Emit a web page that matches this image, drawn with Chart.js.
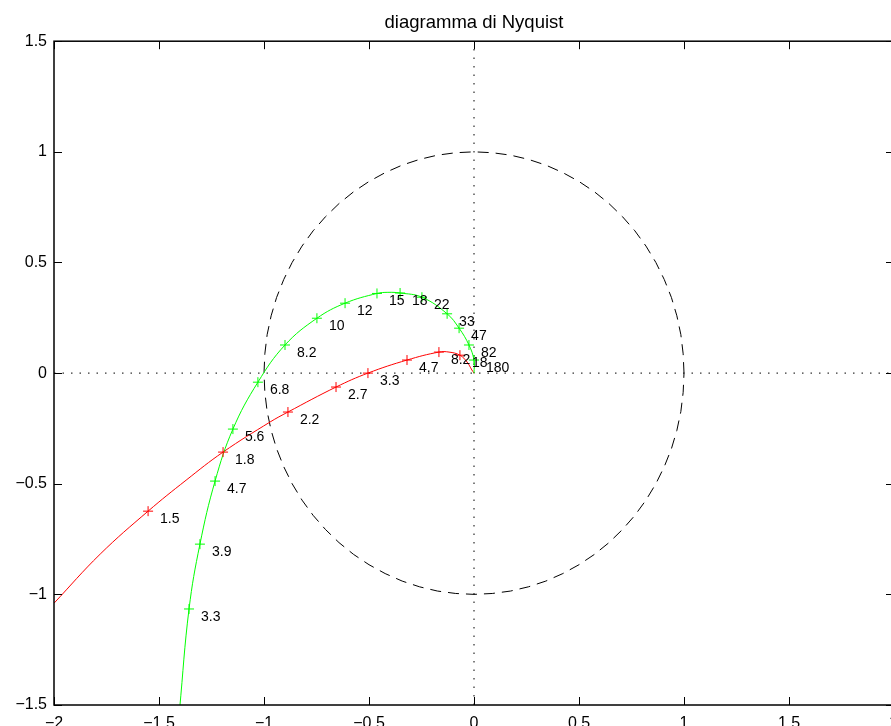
<!DOCTYPE html>
<html>
<head>
<meta charset="utf-8">
<script src="https://cdn.jsdelivr.net/npm/chart.js@4.4.1/dist/chart.umd.min.js"></script>
<style>
  html, body { margin: 0; padding: 0; overflow: hidden; background: #fff; width: 891px; height: 726px; }
  canvas { display: block; }
</style>
</head>
<body>
<canvas id="c" width="900" height="740" style="width:900px;height:740px"></canvas>
<script>
// ---- data ----
const titleText = 'diagramma di Nyquist';
const xTicks = [-2, -1.5, -1, -0.5, 0, 0.5, 1, 1.5, 2];
const yTicks = [-1.5, -1, -0.5, 0, 0.5, 1, 1.5];

const redCurveX = [-2.0, -1.78, -1.552, -1.371, -1.195, -0.971, -0.886, -0.657, -0.505, -0.319, -0.167, -0.119, -0.067, -0.033, -0.01, 0.0];
const redCurveY = [-1.04, -0.818, -0.624, -0.484, -0.357, -0.221, -0.176, -0.063, 0.0, 0.059, 0.095, 0.095, 0.081, 0.05, 0.014, 0.0];
const redMarkX = [-1.552, -1.195, -0.886, -0.657, -0.505, -0.319, -0.167, -0.067];
const redMarkY = [-0.624, -0.357, -0.176, -0.063, 0.0, 0.059, 0.095, 0.081];
const redLabels = ['1.5', '1.8', '2.2', '2.7', '3.3', '4.7', '8.2', '18'];

const greenCurveX = [-1.402, -1.357, -1.305, -1.233, -1.148, -1.029, -0.9, -0.748, -0.614, -0.462, -0.41, -0.352, -0.248, -0.128, -0.071, -0.024, 0.0, 0.0];
const greenCurveY = [-1.52, -1.066, -0.773, -0.488, -0.253, -0.041, 0.127, 0.248, 0.316, 0.36, 0.365, 0.362, 0.343, 0.268, 0.203, 0.127, 0.059, 0.0];
const greenMarkX = [-1.357, -1.305, -1.233, -1.148, -1.029, -0.9, -0.748, -0.614, -0.462, -0.352, -0.248, -0.128, -0.071, -0.024, 0.0];
const greenMarkY = [-1.066, -0.773, -0.488, -0.253, -0.041, 0.127, 0.248, 0.316, 0.36, 0.362, 0.343, 0.268, 0.203, 0.127, 0.059];
const greenLabels = ['3.3', '3.9', '4.7', '5.6', '6.8', '8.2', '10', '12', '15', '18', '22', '33', '47', '82', '180'];

// unit circle (5 degree steps)
const circleX = [1, 0.996, 0.985, 0.966, 0.940, 0.906, 0.866, 0.819, 0.766, 0.707, 0.643, 0.574, 0.5, 0.423, 0.342, 0.259, 0.174, 0.087, 0,
  -0.087, -0.174, -0.259, -0.342, -0.423, -0.5, -0.574, -0.643, -0.707, -0.766, -0.819, -0.866, -0.906, -0.940, -0.966, -0.985, -0.996, -1,
  -0.996, -0.985, -0.966, -0.940, -0.906, -0.866, -0.819, -0.766, -0.707, -0.643, -0.574, -0.5, -0.423, -0.342, -0.259, -0.174, -0.087, 0,
  0.087, 0.174, 0.259, 0.342, 0.423, 0.5, 0.574, 0.643, 0.707, 0.766, 0.819, 0.866, 0.906, 0.940, 0.966, 0.985, 0.996, 1];
const circleY = [0, 0.087, 0.174, 0.259, 0.342, 0.423, 0.5, 0.574, 0.643, 0.707, 0.766, 0.819, 0.866, 0.906, 0.940, 0.966, 0.985, 0.996, 1,
  0.996, 0.985, 0.966, 0.940, 0.906, 0.866, 0.819, 0.766, 0.707, 0.643, 0.574, 0.5, 0.423, 0.342, 0.259, 0.174, 0.087, 0,
  -0.087, -0.174, -0.259, -0.342, -0.423, -0.5, -0.574, -0.643, -0.707, -0.766, -0.819, -0.866, -0.906, -0.940, -0.966, -0.985, -0.996, -1,
  -0.996, -0.985, -0.966, -0.940, -0.906, -0.866, -0.819, -0.766, -0.707, -0.643, -0.574, -0.5, -0.423, -0.342, -0.259, -0.174, -0.087, 0];

const zeroHX = [-2, 2], zeroHY = [0, 0];
const zeroVX = [0, 0], zeroVY = [-1.5, 1.5];

// ---- build ----
const pts = (xs, ys) => xs.map((x, i) => ({ x: x, y: ys[i] }));
const FONT = "'Liberation Sans', Arial, Helvetica, sans-serif";
const fmt = v => (v < 0 ? '\u2212' : '') + String(Math.abs(Math.round(v * 10) / 10));

const inwardTicks = {
  id: 'inwardTicks',
  afterDatasetsDraw(chart) {
    const { ctx, chartArea: a, scales } = chart;
    ctx.save();
    ctx.strokeStyle = '#000';
    ctx.lineWidth = 1;
    ctx.beginPath();
    xTicks.forEach(v => {
      const p = Math.round(scales.x.getPixelForValue(v)) + 0.5;
      ctx.moveTo(p, a.bottom); ctx.lineTo(p, a.bottom - 8);
      ctx.moveTo(p, a.top); ctx.lineTo(p, a.top + 8);
    });
    yTicks.forEach(v => {
      const p = Math.round(scales.y.getPixelForValue(v)) + 0.5;
      ctx.moveTo(a.left, p); ctx.lineTo(a.left + 8, p);
      ctx.moveTo(a.right, p); ctx.lineTo(a.right - 8, p);
    });
    ctx.stroke();
    ctx.lineWidth = 1.5;
    ctx.strokeRect(a.left, a.top, a.right - a.left, a.bottom - a.top);
    // frequency labels
    ctx.fillStyle = '#000';
    ctx.font = '14px ' + FONT;
    ctx.textAlign = 'left';
    ctx.textBaseline = 'middle';
    const lab = (xs, ys, ls) => ls.forEach((t, i) => {
      const px = scales.x.getPixelForValue(xs[i]);
      const py = scales.y.getPixelForValue(ys[i]);
      ctx.fillText(t, px + 12, py + 8);
    });
    lab(redMarkX, redMarkY, redLabels);
    lab(greenMarkX, greenMarkY, greenLabels);
    ctx.restore();
  }
};

new Chart(document.getElementById('c'), {
  type: 'scatter',
  data: {
    datasets: [
      { data: pts(zeroHX, zeroHY), showLine: true, borderColor: '#000', borderWidth: 1, borderDash: [1.5, 7], pointRadius: 0, order: 10 },
      { data: pts(zeroVX, zeroVY), showLine: true, borderColor: '#000', borderWidth: 1, borderDash: [1.5, 7], pointRadius: 0, order: 10 },
      { data: pts(circleX, circleY), showLine: true, borderColor: '#000', borderWidth: 1, borderDash: [11, 7], pointRadius: 0, tension: 0, order: 9 },
      { data: pts(redCurveX, redCurveY), showLine: true, borderColor: '#ff0000', borderWidth: 1, pointRadius: 0, tension: 0.4, order: 5 },
      { data: pts(greenCurveX, greenCurveY), showLine: true, borderColor: '#00ff00', borderWidth: 1, pointRadius: 0, tension: 0.4, order: 4 },
      { data: pts(redMarkX, redMarkY), showLine: false, pointStyle: 'cross', pointRadius: 5, borderColor: '#ff0000', backgroundColor: '#ff0000', pointBorderWidth: 1, order: 3 },
      { data: pts(greenMarkX, greenMarkY), showLine: false, pointStyle: 'cross', pointRadius: 5, borderColor: '#00ff00', backgroundColor: '#00ff00', pointBorderWidth: 1, order: 2 }
    ]
  },
  options: {
    responsive: false,
    animation: false,
    events: [],
    layout: { padding: { left: 0, right: 6, top: 0, bottom: 0 } },
    plugins: {
      legend: { display: false },
      tooltip: { enabled: false },
      title: {
        display: true, text: titleText, color: '#000', fullSize: false,
        font: { family: FONT, size: 18.5, weight: 'normal', lineHeight: 1.2 },
        padding: { top: 12, bottom: 7 }
      }
    },
    scales: {
      x: {
        type: 'linear', min: -2, max: 2,
        afterBuildTicks: s => { s.ticks = xTicks.map(v => ({ value: v })); },
        afterFit: s => { s.height = 35; s.paddingLeft = 0; s.paddingRight = 0; },
        grid: { display: false, drawTicks: false },
        border: { display: false },
        ticks: { color: '#000', font: { family: FONT, size: 16 }, padding: 9, autoSkip: false, maxRotation: 0, callback: v => fmt(v) }
      },
      y: {
        type: 'linear', min: -1.5, max: 1.5,
        afterBuildTicks: s => { s.ticks = yTicks.map(v => ({ value: v })); },
        afterFit: s => { s.width = 54; s.paddingTop = 0; s.paddingBottom = 0; },
        grid: { display: false, drawTicks: false },
        border: { display: false },
        ticks: { color: '#000', font: { family: FONT, size: 16 }, padding: 7, callback: v => fmt(v) }
      }
    }
  },
  plugins: [inwardTicks]
});
</script>
</body>
</html>
